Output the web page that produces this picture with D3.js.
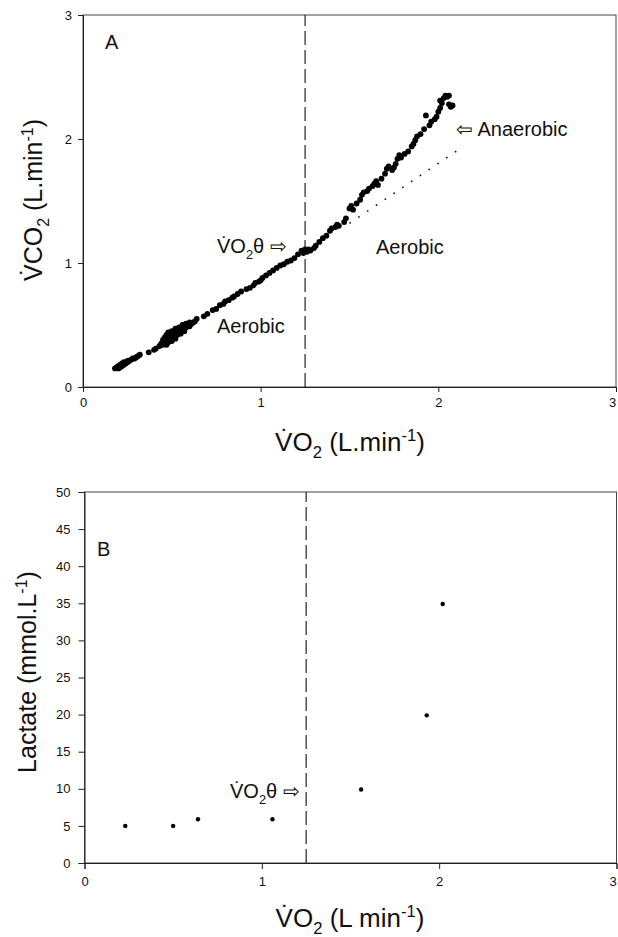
<!DOCTYPE html>
<html>
<head>
<meta charset="utf-8">
<script src="https://cdn.jsdelivr.net/npm/d3@7"></script>
<style>
  body { margin: 0; background: #fff; }
  text { font-family: "Liberation Sans", Arial, sans-serif; fill: #111; }
</style>
</head>
<body>
<script>
// ---- data ----
// panel A: VCO2 against VO2 (L/min)
const vo2A = [0.18,0.19,0.20,0.20,0.21,0.21,0.22,0.22,0.23,0.23,0.24,0.25,0.25,0.26,0.27,0.28,0.29,0.30,0.31,0.32,
  0.37,0.40,0.41,0.43,0.44,0.45,0.45,0.46,0.46,0.47,0.47,0.47,0.48,0.48,0.48,0.49,0.49,0.50,0.50,0.50,
  0.51,0.51,0.52,0.52,0.52,0.53,0.53,0.54,0.54,0.55,0.55,0.56,0.56,0.57,0.57,0.58,0.58,0.59,0.60,0.60,
  0.61,0.62,0.63,0.64,0.68,0.70,0.73,0.75,0.77,0.79,0.80,0.82,0.84,0.85,0.87,0.89,0.92,0.94,0.96,0.97,
  0.99,1.00,1.01,1.03,1.05,1.07,1.09,1.11,1.13,1.15,1.17,1.19,1.21,1.23,1.24,1.25,1.26,1.27,1.28,1.30,
  1.31,1.33,1.35,1.37,1.39,1.40,1.42,1.43,1.44,1.47,1.48,1.50,1.51,1.52,1.54,1.56,1.57,1.58,1.60,1.61,
  1.63,1.64,1.65,1.66,1.68,1.70,1.71,1.72,1.74,1.75,1.76,1.77,1.78,1.79,1.81,1.83,1.85,1.86,1.87,1.88,
  1.90,1.92,1.93,1.95,1.96,1.98,1.99,2.00,2.01,2.01,2.02,2.03,2.04,2.05,2.06,2.07,2.08,2.06];
const vco2A = [0.15,0.16,0.15,0.17,0.16,0.18,0.17,0.19,0.18,0.20,0.19,0.20,0.21,0.21,0.22,0.23,0.23,0.24,0.25,0.26,
  0.28,0.30,0.31,0.33,0.35,0.34,0.38,0.36,0.40,0.34,0.38,0.42,0.36,0.40,0.44,0.38,0.42,0.37,0.41,0.45,
  0.40,0.44,0.39,0.43,0.47,0.42,0.46,0.44,0.48,0.43,0.47,0.46,0.50,0.45,0.49,0.48,0.51,0.50,0.49,0.52,
  0.51,0.52,0.53,0.55,0.57,0.59,0.62,0.63,0.66,0.67,0.69,0.70,0.72,0.73,0.75,0.77,0.79,0.80,0.82,0.84,
  0.85,0.86,0.88,0.90,0.92,0.94,0.96,0.98,0.99,1.01,1.02,1.04,1.07,1.10,1.08,1.11,1.09,1.11,1.10,1.12,
  1.14,1.17,1.20,1.22,1.26,1.28,1.29,1.31,1.30,1.33,1.36,1.44,1.46,1.43,1.48,1.51,1.55,1.57,1.58,1.60,
  1.62,1.64,1.66,1.63,1.68,1.72,1.76,1.78,1.75,1.77,1.80,1.84,1.87,1.85,1.88,1.90,1.94,1.96,1.99,2.02,
  2.04,2.08,2.19,2.11,2.14,2.16,2.18,2.22,2.25,2.31,2.29,2.33,2.35,2.34,2.28,2.26,2.27,2.35];
// dotted extension of the aerobic slope
const aerobicFitX = [1.50, 2.11];
const aerobicFitY = [1.32, 1.91];
const thresholdVO2 = 1.25;

// panel B: blood lactate against VO2
const vo2B = [0.23, 0.50, 0.64, 1.06, 1.56, 1.93, 2.02];
const lactateB = [5.0, 5.0, 5.9, 5.9, 9.9, 19.9, 34.9];

const xTicks = [0, 1, 2, 3];
const yTicksA = [0, 1, 2, 3];
const yTicksB = [0, 5, 10, 15, 20, 25, 30, 35, 40, 45, 50];

// ---- drawing ----
const svg = d3.select("body").append("svg")
    .attr("width", 618)
    .attr("height", 937);

// label with a dotted V, subscript 2 and superscript -1
function richLabel(g, parts, size) {
  const t = g.append("text").attr("font-size", size);
  const shSub = size * 0.28, shSup = size * 0.38;
  parts.forEach(p => {
    const s = t.append("tspan").text(p.t);
    if (p.sub) s.attr("font-size", size * 0.64).attr("dy", shSub);
    if (p.sup) s.attr("font-size", size * 0.64).attr("dy", -shSup);
    if (p.afterSub) s.attr("dy", -shSub);
    if (p.afterSup) s.attr("dy", shSup);
  });
  return t;
}

function panel(o) {
  const x = d3.scaleLinear().domain([0, 3]).range(o.xr);
  const y = d3.scaleLinear().domain([0, o.ymax]).range(o.yr);
  const g = svg.append("g");

  // frame
  g.append("rect")
      .attr("x", x(0)).attr("y", y(o.ymax))
      .attr("width", x(3) - x(0)).attr("height", y(0) - y(o.ymax))
      .attr("fill", "none").attr("stroke", "#444").attr("stroke-width", 1);

  const ax = g.append("g")
      .attr("transform", "translate(0," + y(0) + ")")
      .call(d3.axisBottom(x).tickValues(xTicks).tickSize(o.tick).tickPadding(o.pad).tickFormat(d3.format("d")));
  const ay = g.append("g")
      .attr("transform", "translate(" + x(0) + ",0)")
      .call(d3.axisLeft(y).tickValues(o.yTicks).tickSize(o.tick).tickPadding(o.pad).tickFormat(d3.format("d")));
  [ax, ay].forEach(a => {
    a.selectAll("text").attr("font-size", 13).attr("fill", "#111")
        .style("font-family", "'Liberation Sans', Arial, sans-serif");
    a.selectAll("path,line").attr("stroke", "#222");
  });
  // last x label sits on the page edge; pull it in a little
  ax.selectAll(".tick text").filter(d => d === 3).attr("dx", -4);

  // threshold
  g.append("line")
      .attr("x1", x(thresholdVO2)).attr("x2", x(thresholdVO2))
      .attr("y1", y(0)).attr("y2", y(o.ymax))
      .attr("stroke", "#222").attr("stroke-width", 1.2)
      .attr("stroke-dasharray", "14,5");

  return { g, x, y };
}

// panel A
const A = panel({ xr: [83, 616], yr: [387, 15], ymax: 3, yTicks: yTicksA, tick: 5, pad: 6 });

A.g.append("path")
    .datum(d3.zip(aerobicFitX, aerobicFitY))
    .attr("d", d3.line().x(d => A.x(d[0])).y(d => A.y(d[1])))
    .attr("fill", "none").attr("stroke", "#111").attr("stroke-width", 1.6)
    .attr("stroke-dasharray", "1.6,9");

A.g.selectAll("circle.pt")
    .data(d3.zip(vo2A, vco2A))
    .join("circle")
    .attr("class", "pt")
    .attr("cx", d => A.x(d[0]))
    .attr("cy", d => A.y(d[1]))
    .attr("r", 2.9)
    .attr("fill", "#000");

A.g.append("text").attr("x", 105).attr("y", 49).attr("font-size", 20).text("A");

richLabel(A.g, [{ t: "V\u0307O" }, { t: "2", sub: true }, { t: "\u03b8 \u21e8", afterSub: true }], 20)
    .attr("x", 217).attr("y", 253);
A.g.append("text").attr("x", 217).attr("y", 333).attr("font-size", 20).text("Aerobic");
A.g.append("text").attr("x", 376).attr("y", 254).attr("font-size", 20).text("Aerobic");
A.g.append("text").attr("x", 456).attr("y", 136).attr("font-size", 20).text("\u21e6 Anaerobic");

richLabel(A.g, [{ t: "V\u0307O" }, { t: "2", sub: true }, { t: " (L.min", afterSub: true }, { t: "-1", sup: true }, { t: ")", afterSup: true }], 26)
    .attr("x", 350).attr("y", 451).attr("text-anchor", "middle");
richLabel(A.g, [{ t: "V\u0307CO" }, { t: "2", sub: true }, { t: " (L.min", afterSub: true }, { t: "-1", sup: true }, { t: ")", afterSup: true }], 25)
    .attr("text-anchor", "middle")
    .attr("transform", "translate(42,200) rotate(-90)");

// panel B
const B = panel({ xr: [84.5, 616.5], yr: [863, 492], ymax: 50, yTicks: yTicksB, tick: 6, pad: 8 });

B.g.selectAll("circle.pt")
    .data(d3.zip(vo2B, lactateB))
    .join("circle")
    .attr("class", "pt")
    .attr("cx", d => B.x(d[0]))
    .attr("cy", d => B.y(d[1]))
    .attr("r", 2.2)
    .attr("fill", "#000");

B.g.append("text").attr("x", 97).attr("y", 556).attr("font-size", 20).text("B");
richLabel(B.g, [{ t: "V\u0307O" }, { t: "2", sub: true }, { t: "\u03b8 \u21e8", afterSub: true }], 20)
    .attr("x", 230).attr("y", 798);

richLabel(B.g, [{ t: "V\u0307O" }, { t: "2", sub: true }, { t: " (L min", afterSub: true }, { t: "-1", sup: true }, { t: ")", afterSup: true }], 26)
    .attr("x", 350).attr("y", 927).attr("text-anchor", "middle");
richLabel(B.g, [{ t: "Lactate (mmol.L" }, { t: "-1", sup: true }, { t: ")", afterSup: true }], 25)
    .attr("text-anchor", "middle")
    .attr("transform", "translate(36,672) rotate(-90)");
</script>
</body>
</html>
